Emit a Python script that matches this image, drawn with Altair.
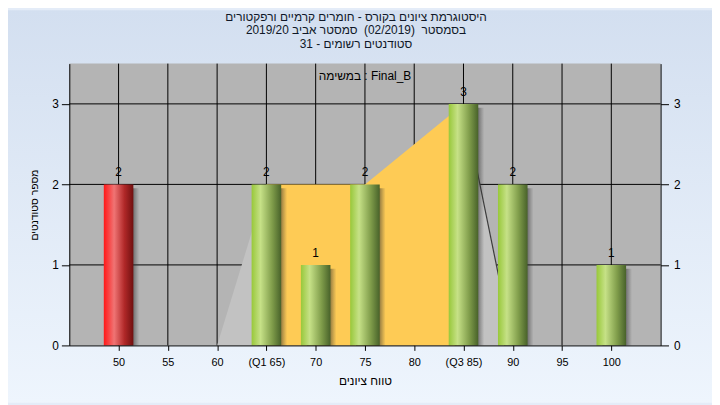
import altair as alt
import pandas as pd

# ---------------- data ----------------
grades = [50, 55, 60, 65, 70, 75, 80, 85, 90, 95, 100]
counts = [2, 0, 0, 2, 1, 2, 0, 3, 2, 0, 1]
tick_labels = ["50", "55", "60", "(Q1 65)", "70", "75", "80", "(Q3 85)", "90", "95", "100"]
fail_limit = 55
q1_grade = 65
q3_grade = 85
curve_x = [60, 65, 75, 85, 90]
curve_y = [0, 2, 2, 3, 0]
y_ticks = [0, 1, 2, 3]

title_lines = [
    "היסטוגרמת ציונים בקורס - חומרים קרמיים ורפקטורים",
    "בסמסטר\u00a0\u00a0(02/2019)\u00a0\u00a0סמסטר אביב 2019/20",
    "סטודנטים רשומים - 31",
]
task_text = "במשימה : Final_B"
x_title = "טווח ציונים"
y_title = "מספר סטודנטים"

# ---------------- layout / style ----------------
W, H = 598, 285
PAD = {"left": 62, "top": 54, "right": 52, "bottom": 58}
FONT = "Liberation Sans"

x_scale = alt.Scale(domain=[45, 105], nice=False, zero=False)
y_scale = alt.Scale(domain=[0, 3.5], nice=False, zero=True)

bars_df = pd.DataFrame({"grade": grades, "count": counts})
bars_df = bars_df[bars_df["count"] > 0].reset_index(drop=True)

curve_df = pd.DataFrame({"cx": curve_x, "cy": curve_y})

one = pd.DataFrame({"a": [0]})
grid_x_df = pd.DataFrame({"g": grades})
grid_y_df = pd.DataFrame({"t": [t for t in y_ticks if t > 0]})

label_map = "{" + ",".join(f"'{g}':'{l}'" for g, l in zip(grades, tick_labels)) + "}"
label_expr = f"{label_map}[datum.value + '']"

bg_grad = alt.LinearGradient(
    gradient="linear", x1=0, x2=0, y1=0, y2=1,
    stops=[alt.GradientStop(color="#d3dff0", offset=0),
           alt.GradientStop(color="#eef5fd", offset=1)],
)
green_grad = alt.LinearGradient(
    gradient="linear", x1=0, x2=1, y1=0, y2=0,
    stops=[alt.GradientStop(color="#98c83a", offset=0),
           alt.GradientStop(color="#c6e187", offset=0.3),
           alt.GradientStop(color="#7f9c4a", offset=0.7),
           alt.GradientStop(color="#48622a", offset=1)],
)
red_grad = alt.LinearGradient(
    gradient="linear", x1=0, x2=1, y1=0, y2=0,
    stops=[alt.GradientStop(color="#ff1818", offset=0),
           alt.GradientStop(color="#f07474", offset=0.35),
           alt.GradientStop(color="#b02828", offset=0.7),
           alt.GradientStop(color="#701010", offset=1)],
)
shadow_grad = alt.LinearGradient(
    gradient="linear", x1=0, x2=1, y1=0, y2=0,
    stops=[alt.GradientStop(color="rgba(40,40,40,0.75)", offset=0),
           alt.GradientStop(color="rgba(40,40,40,0.6)", offset=0.75),
           alt.GradientStop(color="rgba(60,60,60,0)", offset=1)],
)

axis_common = dict(
    grid=False, zindex=1, domainColor="#000000", tickColor="#000000",
    labelColor="#000000", labelFont=FONT,
    titleFont=FONT, titleFontWeight="normal", titleColor="#000000",
)

# background of whole chart
bg = alt.Chart(one).mark_rect(fill=bg_grad).encode(
    x=alt.value(-PAD["left"]), x2=alt.value(W + PAD["right"]),
    y=alt.value(-PAD["top"]), y2=alt.value(H + PAD["bottom"]),
)
plot_bg = alt.Chart(one).mark_rect(fill="#b4b4b4").encode(
    x=alt.value(0), x2=alt.value(W), y=alt.value(0), y2=alt.value(H),
)
grid_v = alt.Chart(grid_x_df).mark_rule(color="#000000", strokeWidth=1).encode(
    x=alt.X("g:Q", scale=x_scale, axis=None), y=alt.value(0), y2=alt.value(H),
)
grid_h = alt.Chart(grid_y_df).mark_rule(color="#000000", strokeWidth=1).encode(
    y=alt.Y("t:Q", scale=y_scale, axis=None), x=alt.value(0), x2=alt.value(W),
)


def curve_part(cond, colour):
    return alt.Chart(curve_df).transform_filter(cond).mark_area(
        color=colour, opacity=1, interpolate="linear"
    ).encode(
        x=alt.X("cx:Q", scale=x_scale, axis=None),
        y=alt.Y("cy:Q", scale=y_scale, axis=None, stack=None),
    )


area_left = curve_part(f"datum.cx <= {q1_grade}", "#c2c2c2")
area_mid = curve_part(f"datum.cx >= {q1_grade} && datum.cx <= {q3_grade}", "#fecb55")
area_right = curve_part(f"datum.cx >= {q3_grade}", "#c2c2c2")

tail_line = alt.Chart(curve_df).transform_filter(f"datum.cx >= {q3_grade}").mark_line(
    color="#3c3c3c", strokeWidth=1.2
).encode(
    x=alt.X("cx:Q", scale=x_scale, axis=None),
    y=alt.Y("cy:Q", scale=y_scale, axis=None),
)

base_bars = alt.Chart(bars_df).transform_calculate(
    lo="datum.grade - 1.5", hi="datum.grade + 1.5", base="0"
)
shadow = base_bars.mark_bar(fill=shadow_grad, xOffset=6, x2Offset=6, yOffset=4).encode(
    x=alt.X("lo:Q", scale=x_scale, axis=None), x2="hi:Q",
    y=alt.Y("count:Q", scale=y_scale, axis=None), y2="base:Q",
)
bars_ok = base_bars.transform_filter(f"datum.grade >= {fail_limit}").mark_bar(fill=green_grad).encode(
    x=alt.X("lo:Q", scale=x_scale,
            axis=alt.Axis(orient="bottom", values=grades, labelExpr=label_expr, title=x_title,
                          tickSize=5, labelPadding=6, titlePadding=9, labelFontSize=11,
                          titleFontSize=12, **axis_common)),
    x2="hi:Q",
    y=alt.Y("count:Q", scale=y_scale,
            axis=alt.Axis(orient="left", values=y_ticks, title=y_title, tickSize=8, labelFontSize=12,
                          titleFontSize=10.5, labelPadding=3, titlePadding=12, format="d", **axis_common)),
    y2="base:Q",
)
bars_fail = base_bars.transform_filter(f"datum.grade < {fail_limit}").mark_bar(fill=red_grad).encode(
    x=alt.X("lo:Q", scale=x_scale, axis=None), x2="hi:Q",
    y=alt.Y("count:Q", scale=y_scale, axis=None), y2="base:Q",
)
labels = alt.Chart(bars_df).mark_text(
    font=FONT, fontSize=12, color="#000000", baseline="bottom", dy=-5
).encode(
    x=alt.X("grade:Q", scale=x_scale, axis=None),
    y=alt.Y("count:Q", scale=y_scale,
            axis=alt.Axis(orient="right", values=y_ticks, title=None, tickSize=8, labelFontSize=12,
                          labelPadding=5, format="d", **axis_common)),
    text="count:Q",
)
task = alt.Chart(one).mark_text(
    font=FONT, fontSize=12, color="#000000", baseline="middle"
).encode(
    x=alt.value(W / 2), y=alt.value(13), text=alt.value(task_text),
)
title = alt.Chart(one).mark_text(
    font=FONT, fontSize=12, color="#101828", baseline="top", align="center",
    lineHeight=13.5, text=title_lines,
).encode(
    x=alt.value(W / 2 - 9), y=alt.value(-52),
)

chart = alt.layer(
    bg, plot_bg, grid_v, grid_h, area_left, area_mid, area_right, tail_line,
    shadow, bars_ok, bars_fail, labels, task, title
).resolve_axis(x="independent", y="independent").properties(
    width=W, height=H,
    autosize=alt.AutoSizeParams(type="none"),
    padding=PAD,
    background="#e4ecf8",
).configure_view(stroke=None)

chart.save("out.html", embed_options={"renderer": "svg", "actions": False})
